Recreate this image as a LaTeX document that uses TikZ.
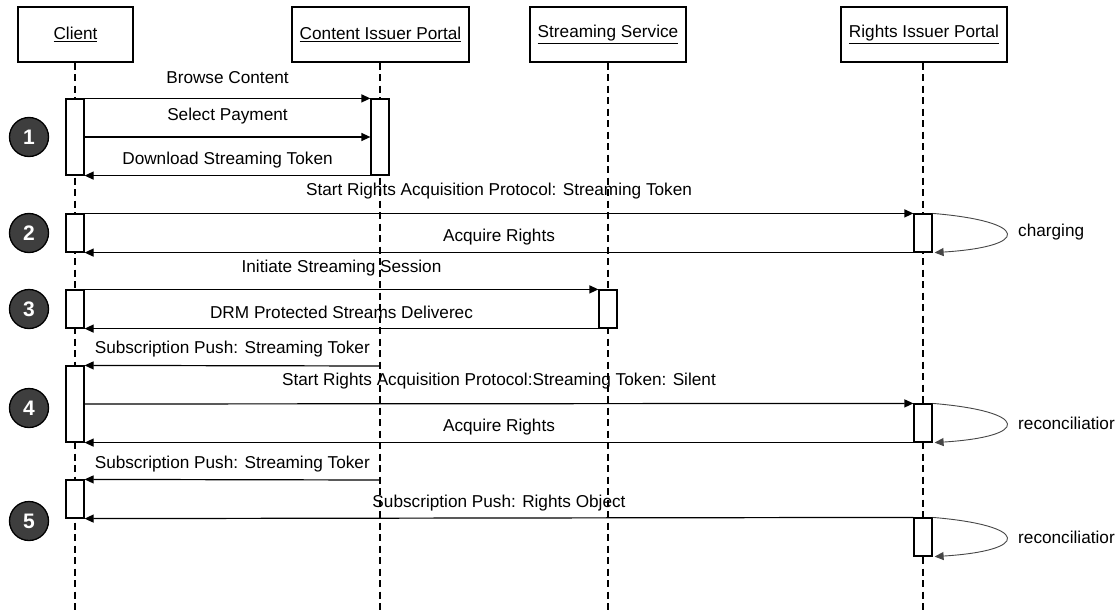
\documentclass[tikz,border=0pt]{standalone}
\usepackage{fontspec}
\setmainfont{Liberation Sans}
\usetikzlibrary{arrows.meta}
\begin{document}
\begin{tikzpicture}[x=1pt,y=-1pt,
  every node/.style={font=\fontsize{17.2}{19}\selectfont},
  hdr/.style={draw, line width=1.3pt, fill=white, minimum height=55pt, inner sep=0pt},
  life/.style={line width=1.1pt, dash pattern=on 7pt off 4.5pt},
  act/.style={draw, line width=1.2pt, fill=white, minimum width=18pt, inner sep=0pt},
  msg/.style={line width=1.2pt, -{Triangle[length=9pt,width=8pt]}},
  loopline/.style={line width=0.9pt, draw={rgb,255:red,70;green,70;blue,70}, -{Triangle[length=9pt,width=8pt]}},
  lbl/.style={midway, inner sep=0pt},
  stepc/.style={circle, draw=black, line width=1.3pt, fill={rgb,255:red,62;green,62;blue,62}, text=white, minimum size=39pt, inner sep=0pt, font=\fontsize{21}{24}\selectfont\bfseries}
]
\useasboundingbox (0,0) rectangle (1119,610);
\fill[white] (0,0) rectangle (1119,610);

% headers
\node[hdr, minimum width=115pt] (client) at (75.5,34.5) {\underline{Client}};
\node[hdr, minimum width=177pt] (cip) at (380.5,34.5) {\underline{Content Issuer Portal}};
\node[hdr, minimum width=156pt] (ss) at (608,34.5) {\underline{Streaming Service}};
\node[hdr, minimum width=166pt] (rip) at (924,34.5) {\underline{Rights Issuer Portal}};

% lifelines
\coordinate (clientEnd) at (75,612);
\coordinate (cipEnd) at (380,612);
\coordinate (ssEnd) at (608,612);
\coordinate (ripEnd) at (923,612);
\draw[life] (client.south -| clientEnd) -- (clientEnd);
\draw[life] (cip.south -| cipEnd) -- (cipEnd);
\draw[life] (ss.south -| ssEnd) -- (ssEnd);
\draw[life] (rip.south -| ripEnd) -- (ripEnd);

% activation boxes
\node[act, minimum height=76pt] (a1c) at (75,137) {};
\node[act, minimum height=76pt] (a1p) at (380,137) {};
\node[act, minimum height=38pt] (a2c) at (75,233) {};
\node[act, minimum height=38pt] (a2r) at (923,233) {};
\node[act, minimum height=38pt] (a3c) at (75,309) {};
\node[act, minimum height=38pt] (a3s) at (608,309) {};
\node[act, minimum height=76pt] (a4c) at (75,404) {};
\node[act, minimum height=38pt] (a4r) at (923,423) {};
\node[act, minimum height=38pt] (a5c) at (75,499) {};
\node[act, minimum height=38pt] (a5r) at (923,537) {};

% step markers
\node[stepc] (s1) at (29,137) {1};
\node[stepc] (s2) at (29,233) {2};
\node[stepc] (s3) at (29,309) {3};
\node[stepc] (s4) at (29,408) {4};
\node[stepc] (s5) at (29,521) {5};

% messages
\draw[msg] (a1c.north east) -- node[lbl, yshift=21pt] {Browse Content} (a1p.north west);
\draw[msg] (a1c.east) -- node[lbl, yshift=21pt] {Select Payment} (a1p.west);
\draw[msg] (a1p.south west) -- node[lbl, yshift=16pt] {Download Streaming Token} (a1c.south east);

\draw[msg] (a2c.north east) -- node[lbl, yshift=22pt] {Start Rights Acquisition Protocol: Streaming Token} (a2r.north west);
\draw[msg] (a2r.south west) -- node[lbl, yshift=16pt] {Acquire Rights} (a2c.south east);
\draw[loopline] (a2r.north east) .. controls +(97,8) and +(97,-6) .. ([xshift=2pt]a2r.south east);
\node[anchor=west, inner sep=0pt] (chg) at (1018,232) {charging};

\draw[msg] (a3c.north east) -- node[lbl, yshift=21pt] {Initiate Streaming Session} (a3s.north west);
\draw[msg] (a3s.south west) -- node[lbl, yshift=16pt] {DRM Protected Streams Deliverec} (a3c.south east);

\coordinate (p4) at (380,366);
\draw[msg] (p4) -- node[lbl, yshift=17pt] {Subscription Push: Streaming Toker} (a4c.north east);
\draw[msg] (a4c.east) -- node[lbl, yshift=23pt] {Start Rights Acquisition Protocol:Streaming Token: Silent} (a4r.north west);
\draw[msg] (a4r.south west) -- node[lbl, yshift=16pt] {Acquire Rights} (a4c.south east);
\draw[loopline] (a4r.north east) .. controls +(97,8) and +(97,-6) .. ([xshift=2pt]a4r.south east);
\node[anchor=west, inner sep=0pt] (rec1) at (1018,423) {reconciliatior};

\coordinate (p5) at (380,480);
\draw[msg] (p5) -- node[lbl, yshift=16pt] {Subscription Push: Streaming Toker} (a5c.north east);
\draw[msg] (a5r.north west) -- node[lbl, yshift=15pt] {Subscription Push: Rights Object} (a5c.south east);
\draw[loopline] (a5r.north east) .. controls +(97,8) and +(97,-6) .. ([xshift=2pt]a5r.south east);
\node[anchor=west, inner sep=0pt] (rec2) at (1018,537) {reconciliatior};
\end{tikzpicture}
\end{document}
